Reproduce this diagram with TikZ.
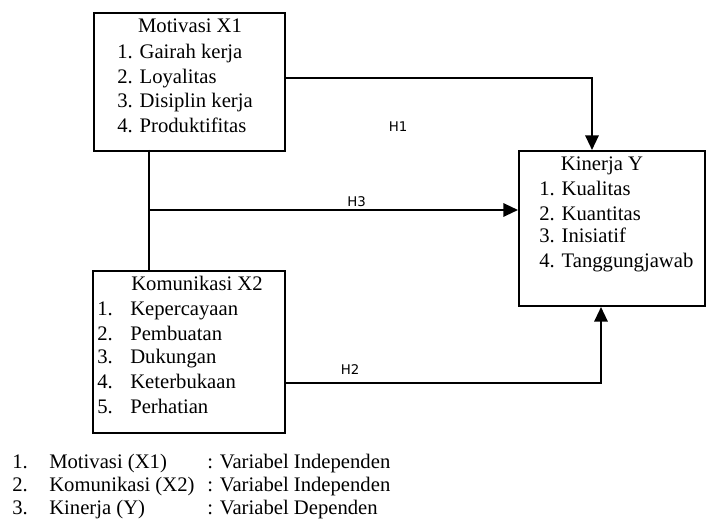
\documentclass[tikz,border=0pt]{standalone}
\usepackage{fontspec}
\setmainfont{Liberation Serif}
\newfontfamily\hfont{DejaVu Sans}
\usetikzlibrary{arrows.meta}
\tikzset{
  box/.style={draw=black, line width=1.5pt},
  conn/.style={draw=black, line width=1.6pt},
  arr/.style={conn, -{Triangle[length=11pt,width=10pt]}},
  txt/.style={anchor=base west, inner sep=0pt, font=\fontsize{15.5}{18}\selectfont},
  ttl/.style={anchor=base, inner sep=0pt, font=\fontsize{15.5}{18}\selectfont},
  hl/.style={anchor=center, inner sep=0pt, font=\hfont\fontsize{10}{12}\selectfont},
}
\begin{document}
\begin{tikzpicture}[x=0.75pt,y=-0.75pt]
\useasboundingbox (0,0) rectangle (706,523);
% boxes
\node[box, minimum width=191*0.75pt, minimum height=138*0.75pt, anchor=north west, inner sep=0pt] (M) at (93,12) {};
\node[box, minimum width=192*0.75pt, minimum height=162*0.75pt, anchor=north west, inner sep=0pt] (K) at (92,270) {};
\node[box, minimum width=186*0.75pt, minimum height=155*0.75pt, anchor=north west, inner sep=0pt] (Y) at (518,150) {};
% Motivasi text
\node[ttl] (mt) at (190,33) {Motivasi X1};
\node[txt] (m1) at (117,59) {1. Gairah kerja};
\node[txt] (m2) at (117,84) {2. Loyalitas};
\node[txt] (m3) at (117,108) {3. Disiplin kerja};
\node[txt] (m4) at (117,133) {4. Produktifitas};
% Kinerja text
\node[ttl] (yt) at (602,171) {Kinerja Y};
\node[txt] (y1) at (539,196) {1. Kualitas};
\node[txt] (y2) at (539,221) {2. Kuantitas};
\node[txt] (y3) at (539,243) {3. Inisiatif};
\node[txt] (y4) at (539,268) {4. Tanggungjawab};
% Komunikasi text
\node[ttl] (kt) at (197,291) {Komunikasi X2};
\foreach \n/\t/\yy in {1/Kepercayaan/316, 2/Pembuatan/341, 3/Dukungan/364, 4/Keterbukaan/389, 5/Perhatian/413}{
  \node[txt] (kn\n) at (97,\yy) {\n.};
  \node[txt] (k\n) at (130,\yy) {\t};
}
% connectors
\coordinate (h1c) at (592,78);
\coordinate (h2c) at (601,383);
\coordinate (vt) at (149,150);
\coordinate (vb) at (149,270);
\coordinate (vm) at (149,210);
\draw[arr] (M.east |- h1c) -- (h1c) -- (h1c |- Y.north);
\draw[conn] (vt) -- (vb);
\draw[arr] (vm) -- (vm -| Y.west);
\draw[arr] (K.east |- h2c) -- (h2c) -- (h2c |- Y.south);
% labels
\node[hl] (H1) at (398,127) {H1};
\node[hl] (H3) at (356.5,201.5) {H3};
\node[hl] (H2) at (350,370) {H2};
% legend
\foreach \n/\a/\b/\yy in {1/Motivasi (X1)/Independen/468, 2/Komunikasi (X2)/Independen/491, 3/Kinerja (Y)/Dependen/514}{
  \node[txt] (ln\n) at (12,\yy) {\n.};
  \node[txt] (la\n) at (49,\yy) {\a};
  \node[txt] (lb\n) at (207,\yy) {: Variabel \b};
}
\end{tikzpicture}
\end{document}
